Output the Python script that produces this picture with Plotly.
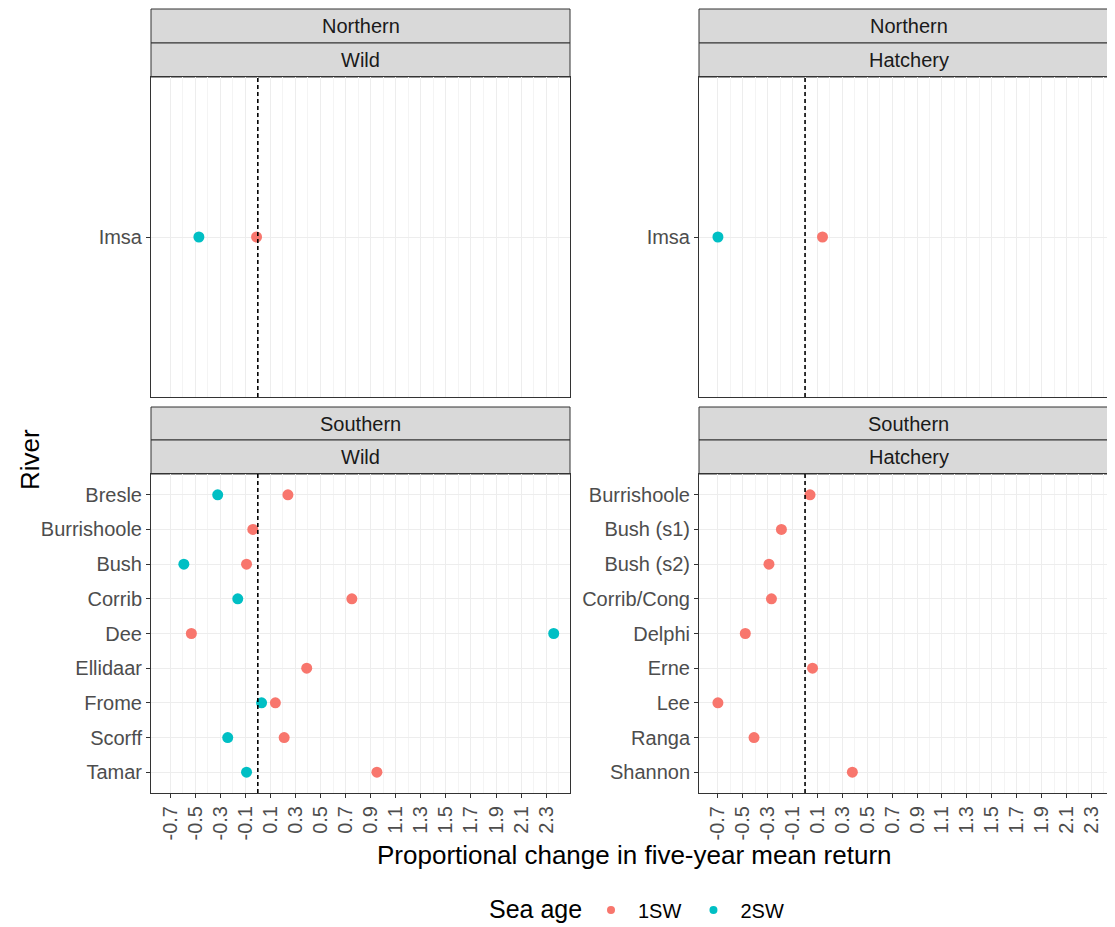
import plotly.graph_objects as go

# ---------------- data ----------------
nw_rivers = ["Imsa"]
nw_1sw = [-0.01]
nw_2sw = [-0.47]

nh_rivers = ["Imsa"]
nh_1sw = [0.14]
nh_2sw = [-0.70]

sw_rivers = ["Bresle", "Burrishoole", "Bush", "Corrib", "Dee", "Ellidaar", "Frome", "Scorff", "Tamar"]
sw_1sw = [0.24, -0.04, -0.09, 0.75, -0.53, 0.39, 0.14, 0.21, 0.95]
sw_2sw = [-0.32, None, -0.59, -0.16, 2.36, None, 0.03, -0.24, -0.09]

sh_rivers = ["Burrishoole", "Bush (s1)", "Bush (s2)", "Corrib/Cong", "Delphi", "Erne", "Lee", "Ranga", "Shannon"]
sh_1sw = [0.04, -0.19, -0.29, -0.27, -0.48, 0.06, -0.70, -0.41, 0.38]

x_ticks = [round(-0.7 + 0.2 * i, 1) for i in range(16)]
x_ticktext = [f"{v:.1f}" for v in x_ticks]

facet_region = ["Northern", "Northern", "Southern", "Southern"]
facet_origin = ["Wild", "Hatchery", "Wild", "Hatchery"]

# ---------------- style ----------------
OX, OY = 8, 8            # browser body margin
W, H = 1115 - OX, 927 - OY
C1 = "#F8766D"
C2 = "#00BFC4"
FONT = "Liberation Sans, Arial, Helvetica, sans-serif"
TICKCOL = "#4D4D4D"
BORDER = "#333333"


def px_x(p):
    return min(max((p - OX) / W, 0.0), 1.0)


def px_y(p):
    return min(max(1 - (p - OY) / H, 0.0), 1.0)


# panel pixel boxes (left, right, top, bottom) in screen pixels
panels = [
    (151, 570, 77, 397),
    (699, 1115, 77, 397),
    (151, 570, 474, 793),
    (699, 1115, 474, 793),
]
strip_rows = [(9, 43, 77), (9, 43, 77), (407, 440, 474), (407, 440, 474)]

xrange_ = [-0.852, 2.49]

fig = go.Figure()

datasets = [
    (nw_rivers, nw_1sw, nw_2sw),
    (nh_rivers, nh_1sw, nh_2sw),
    (sw_rivers, sw_1sw, sw_2sw),
    (sh_rivers, sh_1sw, None),
]

for i, (rivers, v1, v2) in enumerate(datasets):
    ax = "" if i == 0 else str(i + 1)
    fig.add_trace(go.Scatter(
        x=v1, y=rivers, mode="markers", xaxis="x" + ax, yaxis="y" + ax,
        marker=dict(color=C1, size=11), showlegend=False, name="1SW"))
    if v2 is not None:
        fig.add_trace(go.Scatter(
            x=v2, y=rivers, mode="markers", xaxis="x" + ax, yaxis="y" + ax,
            marker=dict(color=C2, size=11), showlegend=False, name="2SW"))

# legend-only traces
fig.add_trace(go.Scatter(x=[None], y=[None], mode="markers", xaxis="x", yaxis="y",
                         marker=dict(color=C1, size=8), name="1SW", showlegend=True))
fig.add_trace(go.Scatter(x=[None], y=[None], mode="markers", xaxis="x", yaxis="y",
                         marker=dict(color=C2, size=8), name="2SW", showlegend=True))

layout = dict(
    width=W, height=H,
    margin=dict(l=0, r=0, t=0, b=0, autoexpand=False),
    paper_bgcolor="white", plot_bgcolor="white",
    font=dict(family=FONT, color="black"),
    showlegend=True,
    legend=dict(
        orientation="h", x=px_x(584), xanchor="left", y=px_y(910), yanchor="middle",
        font=dict(size=20, color="black"), itemwidth=44, tracegroupgap=0,
        bgcolor="rgba(0,0,0,0)", borderwidth=0,
    ),
)

shapes = []
annotations = []

for i, (rivers, v1, v2) in enumerate(datasets):
    ax = "" if i == 0 else str(i + 1)
    l, r, t, b = panels[i]
    bottom_row = i >= 2
    n = len(rivers)
    layout["xaxis" + ax] = dict(
        domain=[px_x(l), px_x(r)],
        anchor="y" + ax,
        range=xrange_,
        tickmode="array", tickvals=x_ticks, ticktext=x_ticktext,
        showticklabels=bottom_row, tickangle=-90,
        ticks="outside" if bottom_row else "", ticklen=4, tickwidth=1, tickcolor=BORDER,
        tickfont=dict(size=20, color=TICKCOL, family=FONT),
        showgrid=True, gridcolor="#EDEDED", gridwidth=1,
        minor=dict(tickmode="array", tickvals=[round(v + 0.1, 1) for v in x_ticks],
                   showgrid=True, gridcolor="#F4F4F4", gridwidth=0.6, ticks=""),
        showline=True, mirror=True, linecolor=BORDER, linewidth=1,
        zeroline=False, fixedrange=True,
    )
    layout["yaxis" + ax] = dict(
        domain=[px_y(b), px_y(t)],
        anchor="x" + ax,
        type="category",
        categoryorder="array", categoryarray=rivers,
        range=[n - 0.4, -0.6],
        ticks="outside", ticklen=4, tickwidth=1, tickcolor=BORDER,
        tickfont=dict(size=20, color=TICKCOL, family=FONT),
        showgrid=True, gridcolor="#EDEDED", gridwidth=1,
        showline=True, mirror=True, linecolor=BORDER, linewidth=1,
        zeroline=False, fixedrange=True,
    )
    # dashed zero line
    shapes.append(dict(type="line", xref="x" + ax, yref="y" + ax + " domain",
                       x0=0, x1=0, y0=0, y1=1,
                       line=dict(color="black", width=1.6, dash="4px,3px"), layer="above"))
    # strips
    s_top, s_mid, s_bot = strip_rows[i]
    cx = (l + r) / 2 if r < 1115 else (l + 1118) / 2
    for (y0, y1, txt) in [(s_top, s_mid, facet_region[i]), (s_mid, s_bot, facet_origin[i])]:
        shapes.append(dict(type="rect", xref="paper", yref="paper",
                           x0=px_x(l), x1=px_x(r), y0=px_y(y1), y1=px_y(y0),
                           fillcolor="#D9D9D9", line=dict(color=BORDER, width=1), layer="below"))
        annotations.append(dict(text=txt, xref="paper", yref="paper",
                                x=px_x(cx), y=px_y((y0 + y1) / 2),
                                showarrow=False, xanchor="center", yanchor="middle",
                                font=dict(size=20, color="#1A1A1A", family=FONT)))

annotations.append(dict(text="Proportional change in five-year mean return", xref="paper", yref="paper",
                        x=px_x(634), y=px_y(855), showarrow=False, xanchor="center", yanchor="middle",
                        font=dict(size=26, color="black", family=FONT)))
annotations.append(dict(text="River", xref="paper", yref="paper",
                        x=px_x(30), y=px_y(460), showarrow=False, xanchor="center", yanchor="middle",
                        textangle=-90, font=dict(size=26, color="black", family=FONT)))
annotations.append(dict(text="Sea age", xref="paper", yref="paper",
                        x=px_x(535), y=px_y(909), showarrow=False, xanchor="center", yanchor="middle",
                        font=dict(size=25, color="black", family=FONT)))

layout["shapes"] = shapes
layout["annotations"] = annotations
fig.update_layout(**layout)

fig.write_html("out.html")
